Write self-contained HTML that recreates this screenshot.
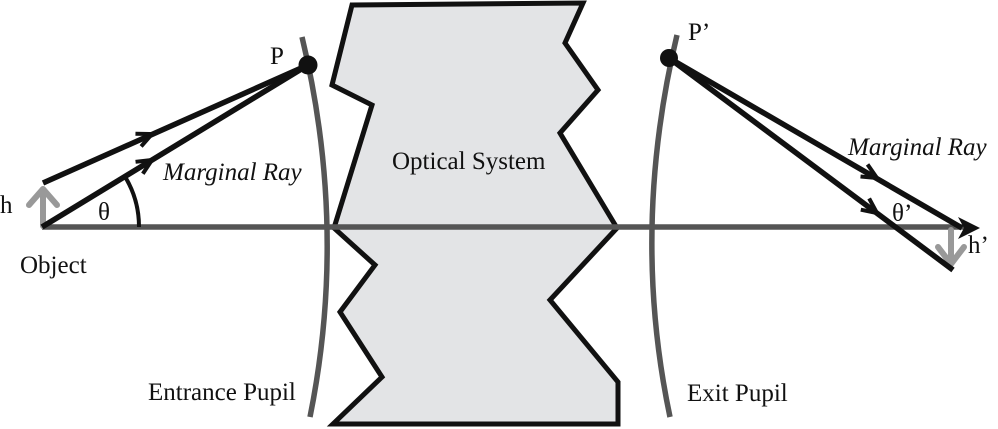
<!DOCTYPE html>
<html><head><meta charset="utf-8"><style>
html,body{margin:0;padding:0;background:#fff;}
svg{display:block;}
text{font-family:"Liberation Serif","DejaVu Serif","Noto Serif CJK SC",serif;font-size:25px;fill:#111;}
.it{font-style:italic;}
</style></head><body>
<svg width="998" height="429" viewBox="0 0 998 429" xmlns="http://www.w3.org/2000/svg">
<!-- optical system -->
<polygon points="352,5 583,3 565,43 598,90 560,133 617,228 550,300 618,382 618,424 333,424 382,377 340,312 375,265 334,228 372,105 332,85" fill="#e3e4e6" stroke="#111" stroke-width="5" stroke-linejoin="miter"/>
<!-- pupils -->
<path d="M302,37 Q348,229 310,417" fill="none" stroke="#555" stroke-width="5.5"/>
<path d="M677,35 Q630.5,230 670,417" fill="none" stroke="#555" stroke-width="5.5"/>
<!-- axis -->
<line x1="42" y1="227" x2="968" y2="227" stroke="#555" stroke-width="5.5"/>
<!-- gray object/image arrows -->
<g stroke="#999" stroke-width="6" fill="none" stroke-linecap="round" stroke-linejoin="round">
<line x1="43" y1="226" x2="43" y2="190"/>
<polyline points="29,205 43,189 57,205"/>
<line x1="951" y1="230" x2="951" y2="262"/>
<polyline points="938,247 951,264 964,247"/>
</g>
<!-- rays -->
<g stroke="#111" stroke-width="5.5" fill="none">
<line x1="43" y1="183" x2="308" y2="65"/>
<line x1="42" y1="227" x2="308" y2="65"/>
<line x1="669" y1="58" x2="962" y2="228"/>
<line x1="669" y1="58" x2="953" y2="270"/>
<path d="M139,227 A97,97 0 0 0 124,175" stroke-width="4"/>
</g>
<!-- chevrons -->
<g stroke="#111" stroke-width="4" fill="none" stroke-linejoin="miter">
<g transform="translate(152,134) rotate(-24)"><path d="M-15,-7 L0,0 L-15,7"/></g>
<g transform="translate(152,160) rotate(-31.3)"><path d="M-15,-7 L0,0 L-15,7"/></g>
<g transform="translate(877,178) rotate(30.1)"><path d="M-15,-7 L0,0 L-15,7"/></g>
<g transform="translate(877,213) rotate(36.7)"><path d="M-15,-7 L0,0 L-15,7"/></g>
</g>
<path d="M980,228 L958,217 L964,228 L958,239 Z" fill="#111"/>
<!-- dots -->
<circle cx="308" cy="65" r="9.5" fill="#111"/>
<circle cx="669" cy="58" r="9" fill="#111"/>
<!-- labels -->
<g font-family="Liberation Serif, DejaVu Serif, serif">
<text x="0" y="213">h</text>
<text x="98" y="220">θ</text>
<text x="20" y="273">Object</text>
<text x="270" y="64">P</text>
<text class="it" x="163" y="180">Marginal Ray</text>
<text x="392" y="169">Optical System</text>
<text x="148" y="400">Entrance Pupil</text>
<text x="687" y="401">Exit Pupil</text>
<text x="688" y="40">P’</text>
<text class="it" x="848" y="155">Marginal Ray</text>
<text x="892" y="221">θ’</text>
<text x="968" y="253">h’</text>
</g>
</svg>
</body></html>
